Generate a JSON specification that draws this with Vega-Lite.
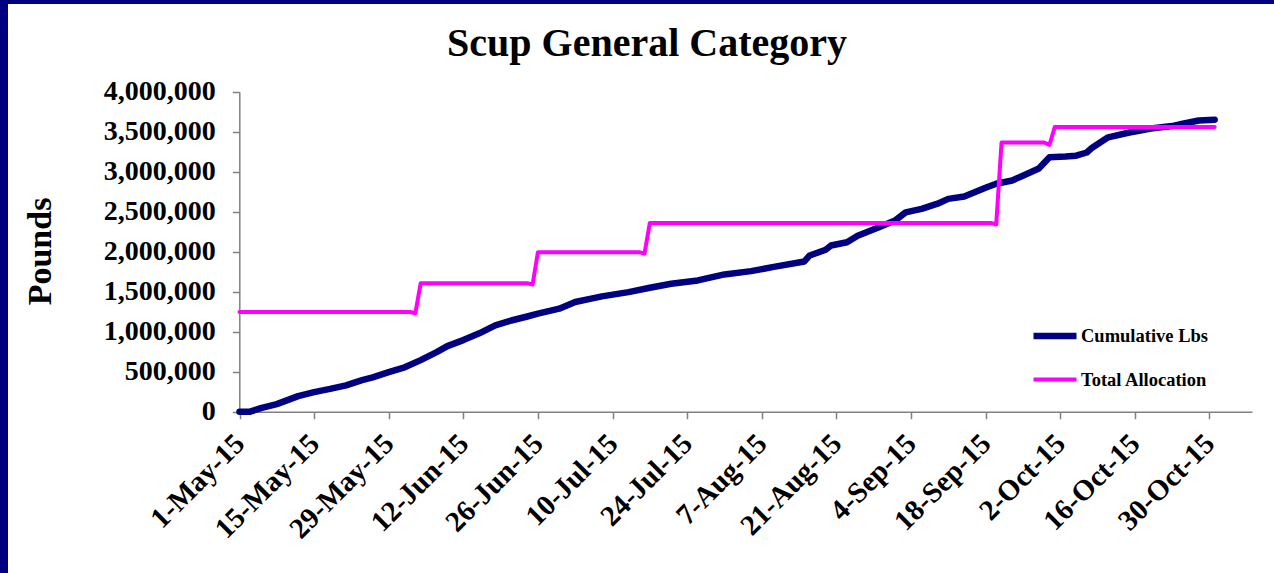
{
  "$schema": "https://vega.github.io/schema/vega-lite/v6.json",
  "width": 1266,
  "height": 569,
  "autosize": "none",
  "padding": {"left": 8, "top": 4, "right": 0, "bottom": 0},
  "background": "#000080",
  "config": {
    "view": {"fill": "white", "stroke": null},
    "font": "Liberation Serif"
  },
  "title": {
    "text": "Scup General Category",
    "font": "Liberation Serif",
    "fontSize": 40,
    "fontWeight": "bold",
    "color": "black",
    "anchor": "middle",
    "frame": "group",
    "baseline": "alphabetic",
    "offset": 0,
    "dx": 6,
    "dy": 92
  },
  "datasets": {
    "series": [
      {"date": "2015-05-01", "series": "Cumulative Lbs", "value": 0},
      {"date": "2015-05-03", "series": "Cumulative Lbs", "value": 0},
      {"date": "2015-05-05", "series": "Cumulative Lbs", "value": 45000},
      {"date": "2015-05-08", "series": "Cumulative Lbs", "value": 95000},
      {"date": "2015-05-10", "series": "Cumulative Lbs", "value": 145000},
      {"date": "2015-05-12", "series": "Cumulative Lbs", "value": 195000},
      {"date": "2015-05-15", "series": "Cumulative Lbs", "value": 245000},
      {"date": "2015-05-18", "series": "Cumulative Lbs", "value": 285000},
      {"date": "2015-05-21", "series": "Cumulative Lbs", "value": 330000},
      {"date": "2015-05-24", "series": "Cumulative Lbs", "value": 395000},
      {"date": "2015-05-26", "series": "Cumulative Lbs", "value": 430000},
      {"date": "2015-05-29", "series": "Cumulative Lbs", "value": 495000},
      {"date": "2015-06-01", "series": "Cumulative Lbs", "value": 555000},
      {"date": "2015-06-04", "series": "Cumulative Lbs", "value": 645000},
      {"date": "2015-06-07", "series": "Cumulative Lbs", "value": 745000},
      {"date": "2015-06-09", "series": "Cumulative Lbs", "value": 820000},
      {"date": "2015-06-12", "series": "Cumulative Lbs", "value": 895000},
      {"date": "2015-06-15", "series": "Cumulative Lbs", "value": 980000},
      {"date": "2015-06-18", "series": "Cumulative Lbs", "value": 1080000},
      {"date": "2015-06-21", "series": "Cumulative Lbs", "value": 1140000},
      {"date": "2015-06-24", "series": "Cumulative Lbs", "value": 1190000},
      {"date": "2015-06-26", "series": "Cumulative Lbs", "value": 1226000},
      {"date": "2015-06-30", "series": "Cumulative Lbs", "value": 1288000},
      {"date": "2015-07-03", "series": "Cumulative Lbs", "value": 1371000},
      {"date": "2015-07-06", "series": "Cumulative Lbs", "value": 1413000},
      {"date": "2015-07-08", "series": "Cumulative Lbs", "value": 1442000},
      {"date": "2015-07-13", "series": "Cumulative Lbs", "value": 1495000},
      {"date": "2015-07-17", "series": "Cumulative Lbs", "value": 1550000},
      {"date": "2015-07-21", "series": "Cumulative Lbs", "value": 1600000},
      {"date": "2015-07-26", "series": "Cumulative Lbs", "value": 1641000},
      {"date": "2015-07-31", "series": "Cumulative Lbs", "value": 1716000},
      {"date": "2015-08-05", "series": "Cumulative Lbs", "value": 1757000},
      {"date": "2015-08-09", "series": "Cumulative Lbs", "value": 1807000},
      {"date": "2015-08-15", "series": "Cumulative Lbs", "value": 1878000},
      {"date": "2015-08-16", "series": "Cumulative Lbs", "value": 1953000},
      {"date": "2015-08-19", "series": "Cumulative Lbs", "value": 2024000},
      {"date": "2015-08-20", "series": "Cumulative Lbs", "value": 2077000},
      {"date": "2015-08-23", "series": "Cumulative Lbs", "value": 2118000},
      {"date": "2015-08-25", "series": "Cumulative Lbs", "value": 2200000},
      {"date": "2015-08-29", "series": "Cumulative Lbs", "value": 2305000},
      {"date": "2015-09-01", "series": "Cumulative Lbs", "value": 2389000},
      {"date": "2015-09-03", "series": "Cumulative Lbs", "value": 2492000},
      {"date": "2015-09-06", "series": "Cumulative Lbs", "value": 2535000},
      {"date": "2015-09-09", "series": "Cumulative Lbs", "value": 2600000},
      {"date": "2015-09-11", "series": "Cumulative Lbs", "value": 2660000},
      {"date": "2015-09-14", "series": "Cumulative Lbs", "value": 2690000},
      {"date": "2015-09-18", "series": "Cumulative Lbs", "value": 2800000},
      {"date": "2015-09-20", "series": "Cumulative Lbs", "value": 2850000},
      {"date": "2015-09-23", "series": "Cumulative Lbs", "value": 2890000},
      {"date": "2015-09-25", "series": "Cumulative Lbs", "value": 2950000},
      {"date": "2015-09-28", "series": "Cumulative Lbs", "value": 3040000},
      {"date": "2015-09-30", "series": "Cumulative Lbs", "value": 3180000},
      {"date": "2015-10-03", "series": "Cumulative Lbs", "value": 3190000},
      {"date": "2015-10-05", "series": "Cumulative Lbs", "value": 3200000},
      {"date": "2015-10-07", "series": "Cumulative Lbs", "value": 3240000},
      {"date": "2015-10-08", "series": "Cumulative Lbs", "value": 3300000},
      {"date": "2015-10-11", "series": "Cumulative Lbs", "value": 3430000},
      {"date": "2015-10-15", "series": "Cumulative Lbs", "value": 3490000},
      {"date": "2015-10-19", "series": "Cumulative Lbs", "value": 3540000},
      {"date": "2015-10-23", "series": "Cumulative Lbs", "value": 3570000},
      {"date": "2015-10-25", "series": "Cumulative Lbs", "value": 3600000},
      {"date": "2015-10-28", "series": "Cumulative Lbs", "value": 3640000},
      {"date": "2015-10-31", "series": "Cumulative Lbs", "value": 3650000},
      {"date": "2015-05-01", "series": "Total Allocation", "value": 1246000},
      {"date": "2015-06-02", "series": "Total Allocation", "value": 1246000},
      {"date": "2015-06-03", "series": "Total Allocation", "value": 1230000},
      {"date": "2015-06-04", "series": "Total Allocation", "value": 1607000},
      {"date": "2015-06-24", "series": "Total Allocation", "value": 1607000},
      {"date": "2015-06-25", "series": "Total Allocation", "value": 1590000},
      {"date": "2015-06-26", "series": "Total Allocation", "value": 1994000},
      {"date": "2015-07-15", "series": "Total Allocation", "value": 1994000},
      {"date": "2015-07-16", "series": "Total Allocation", "value": 1975000},
      {"date": "2015-07-17", "series": "Total Allocation", "value": 2360000},
      {"date": "2015-09-19", "series": "Total Allocation", "value": 2360000},
      {"date": "2015-09-20", "series": "Total Allocation", "value": 2340000},
      {"date": "2015-09-21", "series": "Total Allocation", "value": 3365000},
      {"date": "2015-09-29", "series": "Total Allocation", "value": 3365000},
      {"date": "2015-09-30", "series": "Total Allocation", "value": 3336000},
      {"date": "2015-10-01", "series": "Total Allocation", "value": 3560000},
      {"date": "2015-10-31", "series": "Total Allocation", "value": 3560000}
    ]
  },
  "data": {"name": "series"},
  "mark": {"type": "line", "strokeCap": "round", "strokeJoin": "round"},
  "encoding": {
    "x": {
      "field": "date",
      "type": "temporal",
      "scale": {
        "type": "utc",
        "domain": [
          {"year": 2015, "month": 5, "date": 1, "utc": true},
          {"year": 2015, "month": 11, "date": 7, "utc": true}
        ],
        "range": [231.5, 1244]
      },
      "axis": {
        "orient": "bottom",
        "offset": -161.3,
        "title": null,
        "grid": false,
        "values": [
          {"year": 2015, "month": 5, "date": 1, "utc": true},
          {"year": 2015, "month": 5, "date": 15, "utc": true},
          {"year": 2015, "month": 5, "date": 29, "utc": true},
          {"year": 2015, "month": 6, "date": 12, "utc": true},
          {"year": 2015, "month": 6, "date": 26, "utc": true},
          {"year": 2015, "month": 7, "date": 10, "utc": true},
          {"year": 2015, "month": 7, "date": 24, "utc": true},
          {"year": 2015, "month": 8, "date": 7, "utc": true},
          {"year": 2015, "month": 8, "date": 21, "utc": true},
          {"year": 2015, "month": 9, "date": 4, "utc": true},
          {"year": 2015, "month": 9, "date": 18, "utc": true},
          {"year": 2015, "month": 10, "date": 2, "utc": true},
          {"year": 2015, "month": 10, "date": 16, "utc": true},
          {"year": 2015, "month": 10, "date": 30, "utc": true}
        ],
        "labelExpr": "utcFormat(datum.value, '%-d-%b-%y')",
        "labelAngle": -45,
        "labelAlign": "right",
        "labelBaseline": "middle",
        "labelPadding": 20,
        "labelFont": "Liberation Serif",
        "labelFontSize": 29,
        "labelFontWeight": "bold",
        "labelColor": "black",
        "labelOverlap": false,
        "labelFlush": false,
        "labelBound": false,
        "domainColor": "#808080",
        "domainWidth": 1.5,
        "tickColor": "#808080",
        "tickWidth": 1.5,
        "tickSize": 7
      }
    },
    "y": {
      "field": "value",
      "type": "quantitative",
      "scale": {"domain": [0, 4000000], "range": [407.7, 87.7], "nice": false, "zero": true},
      "axis": {
        "orient": "left",
        "offset": -231.3,
        "values": [0, 500000, 1000000, 1500000, 2000000, 2500000, 3000000, 3500000, 4000000],
        "format": ",d",
        "grid": false,
        "title": "Pounds",
        "titleFont": "Liberation Serif",
        "titleFontSize": 34,
        "titleFontWeight": "bold",
        "titleColor": "black",
        "titleAngle": -90,
        "titleAlign": "center",
        "titleBaseline": "alphabetic",
        "titleX": -189,
        "titleY": 247,
        "labelFont": "Liberation Serif",
        "labelFontSize": 28,
        "labelFontWeight": "bold",
        "labelColor": "black",
        "labelPadding": 17,
        "labelOverlap": false,
        "labelFlush": false,
        "labelBound": false,
        "domainColor": "#808080",
        "domainWidth": 1.5,
        "tickColor": "#808080",
        "tickWidth": 1.5,
        "tickSize": 7
      }
    },
    "color": {
      "field": "series",
      "type": "nominal",
      "scale": {"domain": ["Cumulative Lbs", "Total Allocation"], "range": ["#000080", "#FF00FF"]},
      "legend": {
        "title": null,
        "orient": "none",
        "legendX": 1022,
        "legendY": 307,
        "padding": 0,
        "symbolType": "stroke",
        "symbolSize": 1849,
        "rowPadding": 7,
        "labelOffset": 1,
        "labelFont": "Liberation Serif",
        "labelFontSize": 18.5,
        "labelFontWeight": "bold",
        "labelColor": "black"
      }
    },
    "strokeWidth": {
      "field": "series",
      "type": "nominal",
      "scale": {"domain": ["Cumulative Lbs", "Total Allocation"], "range": [6.5, 4]},
      "legend": {
        "title": null,
        "orient": "none",
        "legendX": 1022,
        "legendY": 307,
        "padding": 0,
        "symbolType": "stroke",
        "symbolSize": 1849,
        "rowPadding": 7,
        "labelOffset": 1,
        "labelFont": "Liberation Serif",
        "labelFontSize": 18.5,
        "labelFontWeight": "bold",
        "labelColor": "black"
      }
    }
  }
}
